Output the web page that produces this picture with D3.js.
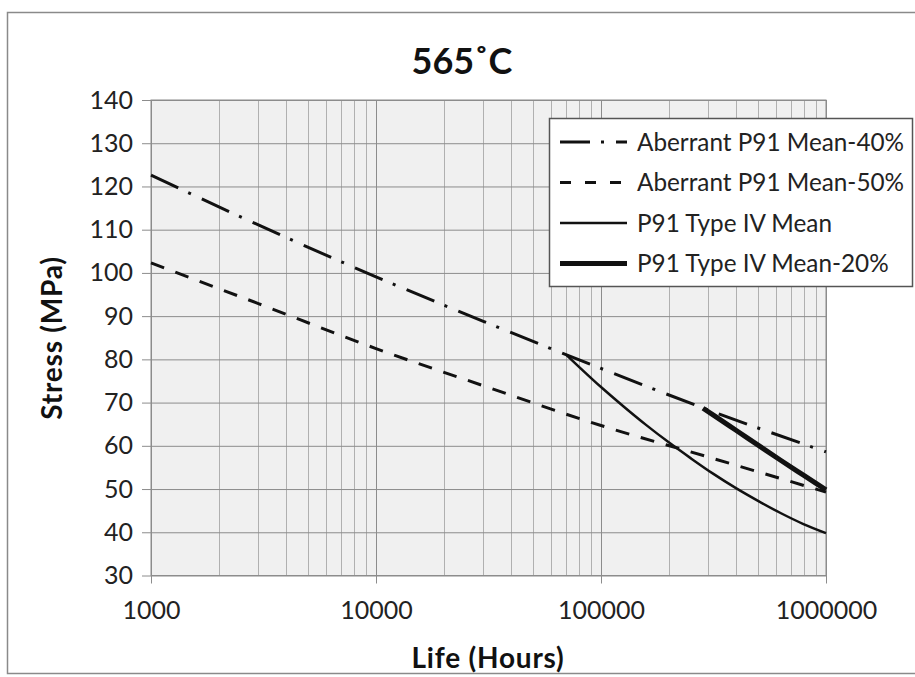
<!DOCTYPE html>
<html>
<head>
<meta charset="utf-8">
<script src="https://cdn.jsdelivr.net/npm/d3@7"></script>
<style>
  body { margin: 0; background: #fff; }
  svg { display: block; font-family: Lato, "Open Sans", sans-serif; }
</style>
</head>
<body>
<svg id="chart" width="915" height="677"></svg>
<script>
var lifeTicks = [1000, 10000, 100000, 1000000];
var stressTicks = [30, 40, 50, 60, 70, 80, 90, 100, 110, 120, 130, 140];

var seriesNames = ['Aberrant P91 Mean-40%', 'Aberrant P91 Mean-50%', 'P91 Type IV Mean', 'P91 Type IV Mean-20%'];

var mean40Life = [1000, 3000, 10000, 30000, 100000, 300000, 1000000];
var mean40Stress = [122.6, 111.1, 99.1, 88.8, 77.9, 68.3, 58.6];

var mean50Life = [1000, 3000, 10000, 30000, 100000, 300000, 1000000];
var mean50Stress = [102.3, 92.9, 82.5, 73.9, 64.7, 57.4, 49.3];

var typeIVLife = [70300, 100000, 126000, 158000, 200000, 251000, 316000, 398000, 501000, 631000, 794000, 1000000];
var typeIVStress = [81.0, 73.6, 69.1, 64.9, 60.8, 57.1, 53.5, 50.2, 47.2, 44.4, 41.9, 39.8];

var typeIV20Life = [284000, 316000, 398000, 501000, 631000, 794000, 1000000];
var typeIV20Stress = [68.7, 67.1, 63.6, 60.1, 56.6, 53.2, 49.8];

var svg = d3.select('#chart');
var plot = { left: 151, right: 826, top: 100, bottom: 575.5 };

var x = d3.scaleLog().domain([1000, 1000000]).range([plot.left, plot.right]);
var y = d3.scaleLinear().domain([30, 140]).range([plot.bottom, plot.top]);

// chart border
svg.append('rect')
  .attr('x', 7.5).attr('y', 12.5)
  .attr('width', 930).attr('height', 661)
  .attr('fill', '#fff').attr('stroke', '#8a8a8a').attr('stroke-width', 1.5);

// plot background
svg.append('rect')
  .attr('x', plot.left).attr('y', plot.top)
  .attr('width', plot.right - plot.left).attr('height', plot.bottom - plot.top)
  .attr('fill', '#f0f0f0');

// minor vertical gridlines
var minorLife = [];
for (var d = 1000; d < 1000000; d *= 10) {
  for (var k = 2; k < 10; k++) minorLife.push(d * k);
}
svg.append('g').selectAll('line').data(minorLife).join('line')
  .attr('x1', function (v) { return Math.round(x(v)) + 0.5; })
  .attr('x2', function (v) { return Math.round(x(v)) + 0.5; })
  .attr('y1', plot.top).attr('y2', plot.bottom)
  .attr('stroke', '#b0b0b0').attr('stroke-width', 1);

// major gridlines + axes
var yAxis = d3.axisLeft(y).tickValues(stressTicks).tickSize(-(plot.right - plot.left)).tickSizeOuter(0).tickPadding(18);
var gy = svg.append('g').attr('transform', 'translate(' + plot.left + ',0)').call(yAxis);
gy.select('.domain').remove();
gy.selectAll('.tick line').attr('stroke', '#8c8c8c').attr('x1', -9);
gy.selectAll('.tick text').attr('font-size', 25).attr('fill', '#222').attr('font-family', 'Lato');

var xAxis = d3.axisBottom(x).tickValues(lifeTicks).tickFormat(d3.format('d'))
  .tickSize(-(plot.bottom - plot.top)).tickSizeOuter(0).tickPadding(26);
var gx = svg.append('g').attr('transform', 'translate(0,' + plot.bottom + ')').call(xAxis);
gx.select('.domain').remove();
gx.selectAll('.tick line').attr('stroke', '#8c8c8c').attr('y1', 8);
gx.selectAll('.tick text').attr('font-size', 25).attr('fill', '#222').attr('font-family', 'Lato');

// plot border
svg.append('rect')
  .attr('x', plot.left).attr('y', plot.top)
  .attr('width', plot.right - plot.left).attr('height', plot.bottom - plot.top)
  .attr('fill', 'none').attr('stroke', '#8c8c8c').attr('stroke-width', 1);

// series
var styles = [
  { width: 3, dash: '30,11,3,12' },
  { width: 3, dash: '14,12' },
  { width: 2.5, dash: null },
  { width: 5, dash: null }
];
var series = [
  d3.zip(mean40Life, mean40Stress),
  d3.zip(mean50Life, mean50Stress),
  d3.zip(typeIVLife, typeIVStress),
  d3.zip(typeIV20Life, typeIV20Stress)
];

var line = d3.line()
  .x(function (p) { return x(p[0]); })
  .y(function (p) { return y(p[1]); })
  .curve(d3.curveMonotoneX);

svg.append('g').selectAll('path').data(series).join('path')
  .attr('d', line)
  .attr('fill', 'none')
  .attr('stroke', '#111')
  .attr('stroke-width', function (s, i) { return styles[i].width; })
  .attr('stroke-dasharray', function (s, i) { return styles[i].dash; });

// legend
var legend = svg.append('g');
legend.append('rect')
  .attr('x', 549.5).attr('y', 118.5).attr('width', 363).attr('height', 168)
  .attr('fill', '#fff').attr('stroke', '#555').attr('stroke-width', 1.5);

var rows = legend.selectAll('g.row').data(seriesNames).join('g')
  .attr('class', 'row')
  .attr('transform', function (n, i) { return 'translate(0,' + (142 + i * 40.5) + ')'; });
rows.append('line')
  .attr('x1', 560).attr('x2', 627).attr('y1', 0).attr('y2', 0)
  .attr('stroke', '#111')
  .attr('stroke-width', function (n, i) { return styles[i].width; })
  .attr('stroke-dasharray', function (n, i) { return i === 1 ? '11,14' : styles[i].dash; });
rows.append('text')
  .attr('x', 637).attr('y', 0).attr('dy', '0.35em')
  .attr('font-size', 24.3).attr('fill', '#222')
  .text(function (n) { return n; });

// titles
svg.append('text')
  .attr('x', 462).attr('y', 74)
  .attr('text-anchor', 'middle')
  .attr('font-size', 36).attr('font-weight', 'bold').attr('fill', '#111')
  .text('565˚C');

svg.append('text')
  .attr('transform', 'translate(62,338) rotate(-90)')
  .attr('text-anchor', 'middle')
  .attr('font-size', 28).attr('font-weight', 'bold').attr('fill', '#111')
  .attr('letter-spacing', 0.8)
  .text('Stress (MPa)');

svg.append('text')
  .attr('x', 488).attr('y', 668)
  .attr('text-anchor', 'middle')
  .attr('font-size', 28).attr('font-weight', 'bold').attr('fill', '#111')
  .attr('letter-spacing', 0.8)
  .text('Life (Hours)');
</script>
</body>
</html>
